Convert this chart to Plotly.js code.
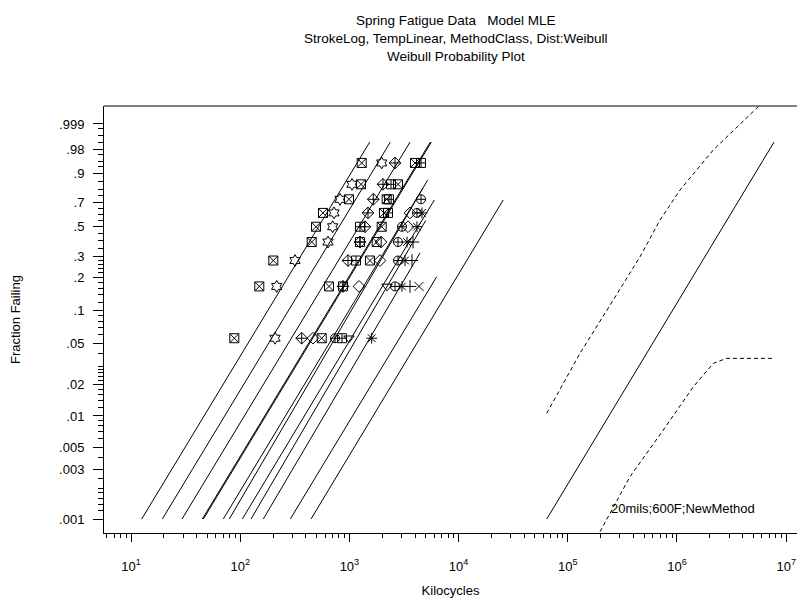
<!DOCTYPE html>
<html><head><meta charset="utf-8">
<script src="https://cdn.plot.ly/plotly-3.0.1.min.js"></script>
<style>html,body{margin:0;padding:0;background:#fff}</style>
</head><body>
<div id="chart" style="width:803px;height:612px"></div>
<script>
// ---- axis ticks ----
const probTickValues = [0.999,0.98,0.9,0.7,0.5,0.3,0.2,0.1,0.05,0.02,0.01,0.005,0.003,0.001];
const probTickLabels = [".999",".98",".9",".7",".5",".3",".2",".1",".05",".02",".01",".005",".003",".001"];
const probMinorValues = [0.998,0.995,0.99,0.97,0.95,0.93,0.85,0.8,0.75,0.65,0.6,0.55,0.45,0.4,0.35,
  0.28,0.26,0.24,0.22,0.18,0.16,0.14,0.12,0.09,0.08,0.07,0.06,0.04,0.03,0.028,0.026,0.024,0.022,
  0.018,0.016,0.014,0.012,0.009,0.008,0.007,0.006,0.004,0.0025,0.002,0.0018,0.0016,0.0014,0.0012];
const kiloTickValues = [10,100,1000,10000,100000,1000000,10000000];
const kiloTickLabels = ['10<sup>1</sup>','10<sup>2</sup>','10<sup>3</sup>','10<sup>4</sup>','10<sup>5</sup>','10<sup>6</sup>','10<sup>7</sup>'];
const titleLines = ['Spring Fatigue Data&nbsp;&nbsp;&nbsp;Model MLE','StrokeLog, TempLinear, MethodClass, Dist:Weibull','Weibull Probability Plot'];

// ---- plotting positions (rows) ----
const rowProbs = [0.0556,0.1667,0.2778,0.3889,0.5,0.6111,0.7222,0.8333,0.9444];

// ---- observed failures per group: kilocycles and row index (1..9) ----
const g1Times = [88.3,149.6,201.0,451.6,494.6,573.2,991.6,1277,1296];  const g1Rows = [1,2,3,4,5,6,7,8,9];
const g2Times = [208.3,215.9,317.6,636.9,703.2,722.8,820.1,1056,1976]; const g2Rows = [1,2,3,4,5,6,7,8,9];
const g3Times = [365.8,873.8,971.0,1250,1389,1480,1655,2031,2616];     const g3Rows = [1,2,3,4,5,6,7,8,9];
const g4Times = [464.2,1224,1907,1947,3441,3589];                      const g4Rows = [1,2,3,4,5,6];
const g5Times = [557.7,650.5,1544,1778,1976,2074,2196,2787,3988];      const g5Rows = [1,2,3,4,5,6,7,8,9];
const g6Times = [855.5,873.8,1149,1250,1250,2257,2305,2404,4525];      const g6Rows = [1,2,3,4,5,6,7,8,9];
const g7Times = [738.2,2616,2787,2787,3031,4159,4525];                 const g7Rows = [1,2,3,4,5,6,7];
const g8Times = [991.6,2210];                                          const g8Rows = [1,2];
const g9Times = [1600,3031,3230,3369,4159,4621];                       const g9Rows = [1,2,3,4,5,6];
const g10Times = [3589,3743,3823];                                     const g10Rows = [2,3,4];
const g11Times = [4339];                                               const g11Rows = [2];

// ---- fitted lines: start at p=.001, end at (time, prob) ----
const lineStartTimes = [12.53,19.35,29.31,44.98,46.0,70.0,79.4,104.5,125.6,162.7,287.6,445];
const lineStartProb = 0.001;
const lineEndTimes = [1534,2369,3590,5505,5630,4691,5200,5991,5000,4431,6302,25610];
const lineEndProbs = [0.99,0.99,0.99,0.99,0.99,0.806,0.86,0.7166,0.55,0.3198,0.2028,0.7166];

// ---- extrapolated condition 20mils;600F;NewMethod ----
const extTimes = [64120, 7734000];
const extProbs = [0.001, 0.99];
const upperTimes = [64120,129300,261000,458400,698700,1065000,2150000,5671000];
const upperProbs = [0.0106,0.040,0.126,0.298,0.553,0.793,0.979,0.99997];
const lowerTimes = [197200,371200,748900,1410000,2150000,2852000,7898000];
const lowerProbs = [0.000753,0.00258,0.00731,0.0191,0.0321,0.0358,0.0358];

const groupSymbols = ['square-x-open','hexagram-open','diamond-cross-open','diamond-open','square-x-open',
  'square-cross-open','circle-cross-open','triangle-down-open','asterisk-open','cross-thin-open','x-thin-open'];
const groupTimes = [g1Times,g2Times,g3Times,g4Times,g5Times,g6Times,g7Times,g8Times,g9Times,g10Times,g11Times];
const groupRows = [g1Rows,g2Rows,g3Rows,g4Rows,g5Rows,g6Rows,g7Rows,g8Rows,g9Rows,g10Rows,g11Rows];

// Weibull probability scale: plot -ln(1-p) on a log axis
const wb = p => -Math.log(1 - p);

const traces = [];
for (let i = 0; i < lineStartTimes.length; i++) {
  traces.push({x:[lineStartTimes[i], lineEndTimes[i]], y:[wb(lineStartProb), wb(lineEndProbs[i])],
    mode:'lines', line:{color:'#000', width:1}, hoverinfo:'skip', showlegend:false});
}
traces.push({x:extTimes, y:extProbs.map(wb), mode:'lines', line:{color:'#000', width:1}, showlegend:false});
traces.push({x:upperTimes, y:upperProbs.map(wb), mode:'lines', line:{color:'#000', width:1, dash:'4px,3px'}, showlegend:false});
traces.push({x:lowerTimes, y:lowerProbs.map(wb), mode:'lines', line:{color:'#000', width:1, dash:'4px,3px'}, showlegend:false});
for (let g = 0; g < groupTimes.length; g++) {
  traces.push({x:groupTimes[g], y:groupRows[g].map(r => wb(rowProbs[r-1])), mode:'markers',
    marker:{symbol:groupSymbols[g], size:9, color:'#000', line:{color:'#000', width:1}}, showlegend:false});
}

const xMinor = [];
for (let e = 0; e <= 6; e++) for (let d = 2; d <= 9; d++) xMinor.push(d * Math.pow(10, e));

const font = 'Liberation Sans, Arial, sans-serif';
const xr = [0.7527, 7.099];
const yr = [-3.1354, 1.0142];
// pixel helpers for annotation placement (plot area 104..797 x 106..533)
const py = ypx => (533 - ypx) / 427;
const px = xpx => (xpx - 104) / 693;

const layout = {
  width:803, height:612,
  margin:{l:104, r:6, t:106, b:79},
  paper_bgcolor:'#fff', plot_bgcolor:'#fff',
  font:{family:font, size:13, color:'#000'},
  showlegend:false,
  xaxis:{type:'log', range:xr, tickvals:kiloTickValues, ticktext:kiloTickLabels,
    ticks:'outside', ticklen:8, tickcolor:'#000', showline:true, linecolor:'#000', linewidth:1,
    showgrid:false, zeroline:false, ticklabelstandoff:13, tickfont:{size:13},
    minor:{tickvals:xMinor, ticks:'outside', ticklen:4, tickcolor:'#000', showgrid:false},
    title:{text:'Kilocycles', standoff:13, font:{size:13}}},
  yaxis:{type:'log', range:yr, tickvals:probTickValues.map(wb), ticktext:probTickLabels,
    ticks:'outside', ticklen:10, tickcolor:'#000', showline:true, linecolor:'#000', linewidth:1,
    showgrid:false, zeroline:false, ticklabelstandoff:6, tickfont:{size:13},
    minor:{tickvals:probMinorValues.map(wb), ticks:'outside', ticklen:5, tickcolor:'#000', showgrid:false},
    title:{text:'Fraction Failing', standoff:35, font:{size:13}}},
  shapes:[{type:'line', xref:'paper', yref:'paper', x0:0, x1:1, y0:1, y1:1, line:{color:'#000', width:1}}],
  annotations:[
    {text:titleLines[0], xref:'paper', yref:'paper', x:px(455.5), y:py(20), xanchor:'center', yanchor:'middle', showarrow:false, font:{size:13.5}},
    {text:titleLines[1], xref:'paper', yref:'paper', x:px(455.5), y:py(38), xanchor:'center', yanchor:'middle', showarrow:false, font:{size:13.5}},
    {text:titleLines[2], xref:'paper', yref:'paper', x:px(455.5), y:py(56), xanchor:'center', yanchor:'middle', showarrow:false, font:{size:13.5}},
    {text:'20mils;600F;NewMethod', xref:'paper', yref:'paper', x:px(683), y:py(508),
    xanchor:'center', yanchor:'middle', showarrow:false, font:{family:font, size:13, color:'#000'}}]
};

Plotly.newPlot('chart', traces, layout, {displayModeBar:false, staticPlot:true});
</script>
</body></html>
